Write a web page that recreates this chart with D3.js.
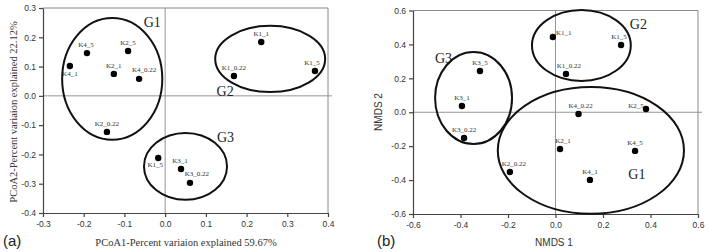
<!DOCTYPE html>
<html>
<head>
<meta charset="utf-8">
<script src="https://cdn.jsdelivr.net/npm/d3@7"></script>
<style>
  body { margin: 0; background: #fff; }
  svg { display: block; }
</style>
</head>
<body>
<div id="chart"></div>
<script>
// ---- data: panel (a) PCoA ----
var pcoaNames = ["K4_5", "K2_5", "K4_1", "K2_1", "K4_0.22", "K2_0.22", "K1_5", "K3_1", "K3_0.22", "K1_1", "K1_0.22", "K1_5"];
var pcoaX = [-0.192, -0.091, -0.234, -0.126, -0.064, -0.143, -0.017, 0.039, 0.061, 0.236, 0.169, 0.368];
var pcoaY = [0.146, 0.153, 0.102, 0.075, 0.058, -0.123, -0.212, -0.250, -0.297, 0.184, 0.068, 0.085];
var pcoaXTicks = [-0.3, -0.2, -0.1, 0.0, 0.1, 0.2, 0.3, 0.4];
var pcoaYTicks = [-0.4, -0.3, -0.2, -0.1, 0.0, 0.1, 0.2, 0.3];
// groups: name, centre x, centre y, radius x, radius y
var pcoaGroups = [
    ["G1", -0.130, 0.058, 0.123, 0.208],
    ["G2", 0.258, 0.126, 0.135, 0.113],
    ["G3", 0.050, -0.241, 0.102, 0.114]
];

// ---- data: panel (b) NMDS ----
var nmdsNames = ["K3_5", "K3_1", "K3_0.22", "K2_0.22", "K1_1", "K1_5", "K1_0.22", "K4_0.22", "K2_5", "K2_1", "K4_5", "K4_1"];
var nmdsX = [-0.318, -0.394, -0.385, -0.192, -0.011, 0.276, 0.044, 0.097, 0.381, 0.019, 0.335, 0.145];
var nmdsY = [0.243, 0.037, -0.152, -0.352, 0.444, 0.397, 0.226, -0.010, 0.019, -0.217, -0.228, -0.399];
var nmdsXTicks = [-0.6, -0.4, -0.2, 0.0, 0.2, 0.4, 0.6];
var nmdsYTicks = [-0.6, -0.4, -0.2, 0.0, 0.2, 0.4, 0.6];
var nmdsGroups = [
    ["G1", 0.149, -0.225, 0.392, 0.374],
    ["G2", 0.109, 0.394, 0.208, 0.209],
    ["G3", -0.345, 0.084, 0.162, 0.271]
];

var svg = d3.select("#chart")
    .append("svg")
    .attr("width", 708)
    .attr("height", 252);

var fmt = function (d) { return d.toFixed(1); };

function drawPanel(p) {
    var x = d3.scaleLinear().domain(p.xDomain).range([p.left, p.right]);
    var y = d3.scaleLinear().domain(p.yDomain).range([p.bottom, p.top]);
    var g = svg.append("g");

    // top & right frame
    g.append("path")
        .attr("d", "M" + p.left + "," + p.top + "H" + p.right + "V" + p.bottom)
        .attr("fill", "none")
        .attr("stroke", "#8a8a8a")
        .attr("stroke-width", 1);

    // zero lines
    g.append("line")
        .attr("x1", x(0)).attr("x2", x(0))
        .attr("y1", p.top).attr("y2", p.bottom)
        .attr("stroke", "#8a8a8a").attr("stroke-width", 0.9);
    g.append("line")
        .attr("x1", p.left).attr("x2", p.right + 4)
        .attr("y1", y(0)).attr("y2", y(0))
        .attr("stroke", "#8a8a8a").attr("stroke-width", 0.9);

    // axes
    var xa = g.append("g")
        .attr("transform", "translate(0," + p.bottom + ")")
        .call(d3.axisBottom(x).tickValues(p.xTicks).tickFormat(fmt).tickSize(4).tickSizeOuter(0).tickPadding(4));
    var ya = g.append("g")
        .attr("transform", "translate(" + p.left + ",0)")
        .call(d3.axisLeft(y).tickValues(p.yTicks).tickFormat(fmt).tickSize(4).tickSizeOuter(0).tickPadding(3));
    [xa, ya].forEach(function (a) {
        a.selectAll("path, line").attr("stroke", "#444").attr("stroke-width", 1.2);
        a.selectAll("text")
            .attr("font-family", "Liberation Sans, Arial, sans-serif")
            .attr("font-size", 8.5)
            .attr("fill", "#333");
    });

    // group ellipses
    g.selectAll(".grp")
        .data(p.groups)
        .enter()
        .append("ellipse")
        .attr("cx", function (d) { return x(d[1]); })
        .attr("cy", function (d) { return y(d[2]); })
        .attr("rx", function (d) { return x(d[1] + d[3]) - x(d[1]); })
        .attr("ry", function (d) { return y(d[2]) - y(d[2] + d[4]); })
        .attr("fill", "none")
        .attr("stroke", "#111")
        .attr("stroke-width", 2);

    g.selectAll(".glab")
        .data(p.groups)
        .enter()
        .append("text")
        .attr("x", function (d) { return x(d[1]) + p.gOff[d[0]][0]; })
        .attr("y", function (d) { return y(d[2]) + p.gOff[d[0]][1]; })
        .attr("text-anchor", "middle")
        .attr("font-family", "Liberation Serif, Times New Roman, serif")
        .attr("font-size", 14)
        .attr("fill", "#222")
        .text(function (d) { return d[0]; });

    // points
    var idx = d3.range(p.names.length);
    g.selectAll(".pt")
        .data(idx)
        .enter()
        .append("circle")
        .attr("cx", function (i) { return x(p.xs[i]); })
        .attr("cy", function (i) { return y(p.ys[i]); })
        .attr("r", 3.2)
        .attr("fill", "#000");

    g.selectAll(".plab")
        .data(idx)
        .enter()
        .append("text")
        .attr("x", function (i) { return x(p.xs[i]) + p.lOff[i][0]; })
        .attr("y", function (i) { return y(p.ys[i]) + p.lOff[i][1]; })
        .attr("text-anchor", function (i) { return p.lOff[i][2] || "middle"; })
        .attr("font-family", "Liberation Serif, Times New Roman, serif")
        .attr("font-size", 7)
        .attr("fill", "#333")
        .text(function (i) { return p.names[i]; });

    // axis titles
    g.append("text")
        .attr("x", p.xTitle[0]).attr("y", p.xTitle[1])
        .attr("text-anchor", "middle")
        .attr("font-family", p.titleFont)
        .attr("font-size", p.titleSize)
        .attr("fill", "#333")
        .text(p.xLabel);
    g.append("text")
        .attr("transform", "translate(" + p.yTitle[0] + "," + p.yTitle[1] + ") rotate(-90)")
        .attr("text-anchor", "middle")
        .attr("font-family", p.titleFont)
        .attr("font-size", p.titleSize)
        .attr("fill", "#333")
        .text(p.yLabel);

    // panel letter
    g.append("text")
        .attr("x", p.letter[0]).attr("y", p.letter[1])
        .attr("font-family", "Liberation Sans, Arial, sans-serif")
        .attr("font-size", 15)
        .attr("fill", "#222")
        .text(p.letter[2]);
}

drawPanel({
    left: 43, right: 328, top: 8, bottom: 213,
    xDomain: [-0.3, 0.4], yDomain: [-0.4, 0.3],
    xTicks: pcoaXTicks, yTicks: pcoaYTicks,
    names: pcoaNames, xs: pcoaX, ys: pcoaY,
    groups: pcoaGroups,
    gOff: { G1: [40, -52], G2: [-45, 37], G3: [40, -24] },
    lOff: [[-1, -6.5], [0, -6], [0, 10.5], [0, -6], [5, -6.5], [0, -6], [-3, 9.5], [-1, -6], [7, -6.5], [0, -6], [0, -6], [-3, -6]],
    xLabel: "PCoA1-Percent variaion explained 59.67%",
    yLabel: "PCoA2-Percent variaion explained 22.12%",
    xTitle: [186, 246], yTitle: [17, 112],
    titleFont: "Liberation Serif, Times New Roman, serif", titleSize: 10.5,
    letter: [3, 246, "(a)"]
});

drawPanel({
    left: 413, right: 698, top: 10.5, bottom: 214,
    xDomain: [-0.6, 0.6], yDomain: [-0.6, 0.6],
    xTicks: nmdsXTicks, yTicks: nmdsYTicks,
    names: nmdsNames, xs: nmdsX, ys: nmdsY,
    groups: nmdsGroups,
    gOff: { G3: [-30, -35], G2: [57, -16], G1: [46, 29] },
    lOff: [[0, -6], [0, -6], [0, -6], [4, -6], [3, -2, "start"], [-2, -6], [3, -6], [2, -6], [-10, -1.5, "middle"], [3, -6], [0, -6], [0, -6]],
    xLabel: "NMDS 1",
    yLabel: "NMDS 2",
    xTitle: [554, 246], yTitle: [382, 112],
    titleFont: "Liberation Sans, Arial, sans-serif", titleSize: 10,
    letter: [377, 246, "(b)"]
});
</script>
</body>
</html>
